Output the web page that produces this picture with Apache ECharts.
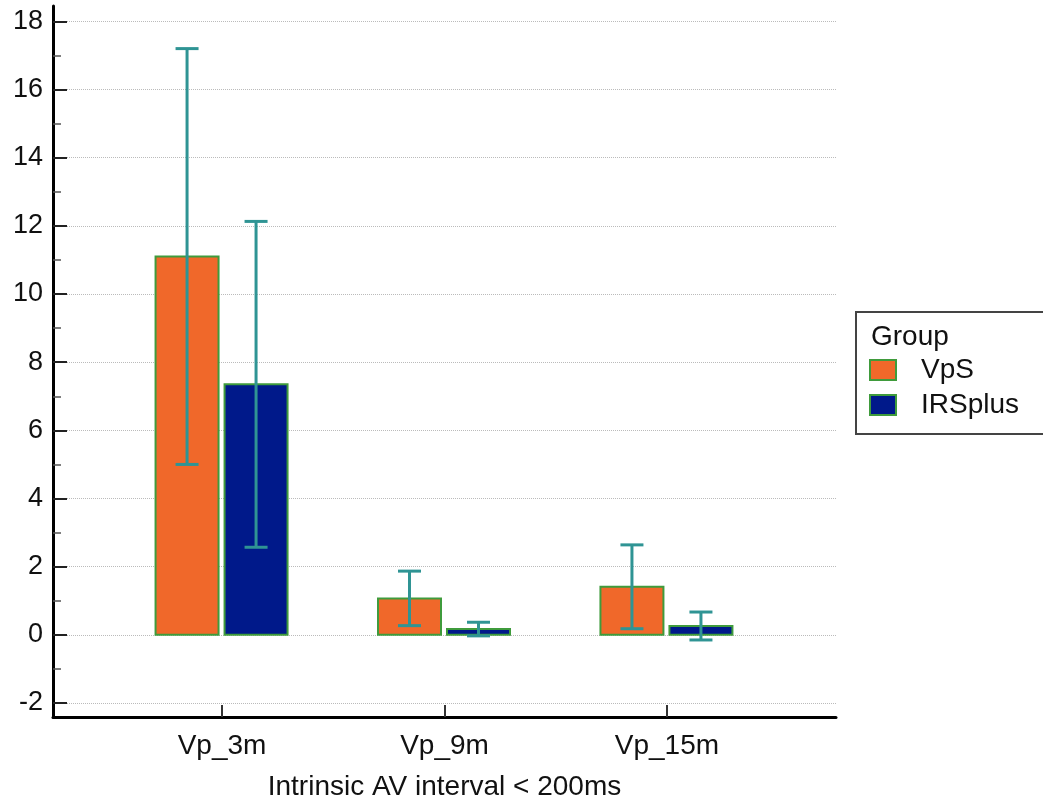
<!DOCTYPE html>
<html>
<head>
<meta charset="utf-8">
<script src="https://cdn.jsdelivr.net/npm/echarts@6/dist/echarts.min.js"></script>
<style>
  html, body { margin: 0; padding: 0; background: #fff; }
  #chart { width: 1043px; height: 799px; }
</style>
</head>
<body>
<div id="chart"></div>
<script>
// data
const categories = ['Vp_3m', 'Vp_9m', 'Vp_15m'];
const groups = ['VpS', 'IRSplus'];
const vpsMean = [11.1, 1.07, 1.41];
const vpsSd = [6.1, 0.8, 1.23];
const irsMean = [7.35, 0.17, 0.26];
const irsSd = [4.78, 0.2, 0.41];
const yTicks = [-2, 0, 2, 4, 6, 8, 10, 12, 14, 16, 18];
const yMinorTicks = [-1, 1, 3, 5, 7, 9, 11, 13, 15, 17];

const colors = { VpS: '#f0682a', IRSplus: '#00198a' };
const barBorder = '#3f9b3c';
const errColor = '#2f9494';
const font = 'Liberation Sans, Arial, sans-serif';

const chart = echarts.init(document.getElementById('chart'));

function makeRender(offset) {
  return function (params, api) {
    const idx = api.value(0);
    const mean = api.value(1);
    const sd = api.value(2);
    const base = api.coord([idx, 0]);
    const top = api.coord([idx, mean]);
    const hi = api.coord([idx, mean + sd]);
    const lo = api.coord([idx, mean - sd]);
    const cx = base[0] + offset;
    const bw = 63;
    const cap = 23;
    return {
      type: 'group',
      children: [
        {
          type: 'rect',
          shape: { x: cx - bw / 2, y: top[1], width: bw, height: base[1] - top[1] },
          style: { fill: api.visual('color'), stroke: barBorder, lineWidth: 2 }
        },
        {
          type: 'line',
          shape: { x1: cx, y1: hi[1], x2: cx, y2: lo[1] },
          style: { stroke: errColor, lineWidth: 3 }
        },
        {
          type: 'line',
          shape: { x1: cx - cap / 2, y1: hi[1], x2: cx + cap / 2, y2: hi[1] },
          style: { stroke: errColor, lineWidth: 3 }
        },
        {
          type: 'line',
          shape: { x1: cx - cap / 2, y1: lo[1], x2: cx + cap / 2, y2: lo[1] },
          style: { stroke: errColor, lineWidth: 3 }
        }
      ]
    };
  };
}

const option = {
  backgroundColor: '#fff',
  animation: false,
  textStyle: { fontFamily: font },
  title: {
    text: 'Group',
    left: 871,
    top: 323,
    padding: 0,
    textStyle: { fontSize: 28, fontWeight: 'normal', color: '#111', fontFamily: font }
  },
  legend: {
    orient: 'vertical',
    left: 856,
    top: 312,
    padding: [44, 200, 15, 13],
    itemWidth: 26,
    itemHeight: 20,
    itemGap: 7,
    borderColor: '#444',
    borderWidth: 2,
    textStyle: { fontSize: 28, color: '#111', padding: [0, 0, 0, 20], fontFamily: font },
    data: groups.map(g => ({
      name: g,
      icon: 'rect',
      itemStyle: { color: colors[g], borderColor: barBorder, borderWidth: 2 }
    }))
  },
  grid: { left: 53, right: 207, top: 6, bottom: 82, outerBoundsMode: 'none' },
  xAxis: {
    type: 'value',
    min: -0.76,
    max: 2.76,
    name: 'Intrinsic AV interval < 200ms',
    nameLocation: 'middle',
    nameGap: 56,
    nameTextStyle: { fontSize: 28, color: '#111', fontFamily: font },
    axisLine: { onZero: false, lineStyle: { color: '#000', width: 3 } },
    axisTick: { inside: true, length: 12, customValues: [0, 1, 2], lineStyle: { color: '#333', width: 2 } },
    axisLabel: {
      customValues: [0, 1, 2],
      formatter: v => categories[Math.round(v)],
      fontSize: 28,
      color: '#111',
      margin: 15
    },
    splitLine: { show: false }
  },
  yAxis: [
    {
      type: 'value',
      min: -2.41,
      max: 18.45,
      axisLine: { show: true, onZero: false, lineStyle: { color: '#000', width: 3 } },
      axisTick: { inside: true, length: 14, customValues: yTicks, lineStyle: { color: '#222', width: 2 } },
      axisLabel: { customValues: yTicks, fontSize: 27, color: '#111', margin: 10 },
      splitLine: { show: true, lineStyle: { color: '#bbb', type: 'dotted', width: 1 } }
    },
    {
      type: 'value',
      min: -2.41,
      max: 18.45,
      position: 'left',
      axisLine: { show: false, onZero: false },
      axisTick: { show: true, inside: true, length: 8, customValues: yMinorTicks, lineStyle: { color: '#555', width: 1.5 } },
      axisLabel: { show: false },
      splitLine: { show: false }
    }
  ],
  series: [
    {
      name: 'VpS',
      type: 'custom',
      itemStyle: { color: colors.VpS },
      renderItem: makeRender(-35),
      encode: { x: 0, y: 1 },
      data: categories.map((c, i) => [i, vpsMean[i], vpsSd[i]])
    },
    {
      name: 'IRSplus',
      type: 'custom',
      itemStyle: { color: colors.IRSplus },
      renderItem: makeRender(34),
      encode: { x: 0, y: 1 },
      data: categories.map((c, i) => [i, irsMean[i], irsSd[i]])
    }
  ]
};

chart.setOption(option);
</script>
</body>
</html>
